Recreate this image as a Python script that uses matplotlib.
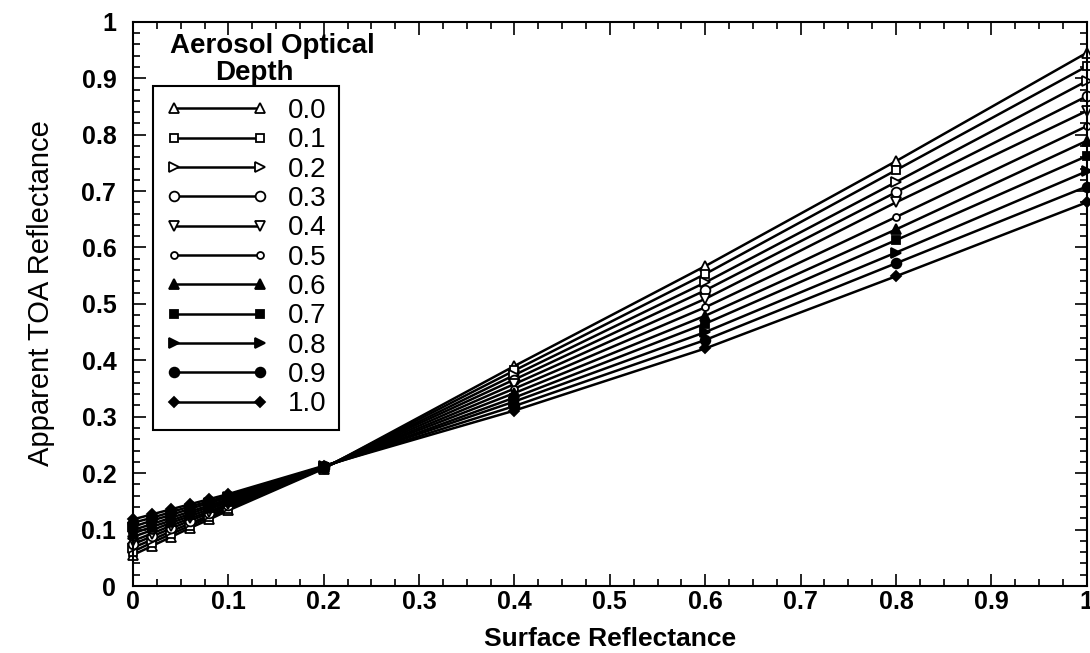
import matplotlib
matplotlib.use('Agg')
import matplotlib.pyplot as plt
from matplotlib.ticker import MultipleLocator, FuncFormatter

# surface reflectance sample points
surf = [0.0, 0.02, 0.04, 0.06, 0.08, 0.1, 0.2, 0.4, 0.6, 0.8, 1.0]

# apparent TOA reflectance for each aerosol optical depth
r_00 = [0.055, 0.071, 0.087, 0.103, 0.118, 0.134, 0.208, 0.390, 0.567, 0.753, 0.945]
r_01 = [0.061, 0.077, 0.092, 0.107, 0.122, 0.137, 0.209, 0.382, 0.553, 0.737, 0.921]
r_02 = [0.068, 0.082, 0.097, 0.111, 0.125, 0.140, 0.209, 0.374, 0.538, 0.716, 0.895]
r_03 = [0.074, 0.088, 0.102, 0.116, 0.129, 0.143, 0.210, 0.366, 0.524, 0.698, 0.868]
r_04 = [0.080, 0.093, 0.107, 0.120, 0.132, 0.146, 0.210, 0.358, 0.509, 0.680, 0.842]
r_05 = [0.087, 0.099, 0.112, 0.124, 0.136, 0.149, 0.210, 0.350, 0.494, 0.654, 0.815]
r_06 = [0.093, 0.105, 0.116, 0.128, 0.140, 0.151, 0.211, 0.342, 0.479, 0.632, 0.789]
r_07 = [0.099, 0.110, 0.121, 0.132, 0.143, 0.154, 0.211, 0.334, 0.465, 0.613, 0.762]
r_08 = [0.105, 0.116, 0.126, 0.137, 0.147, 0.157, 0.212, 0.327, 0.450, 0.591, 0.735]
r_09 = [0.112, 0.121, 0.131, 0.141, 0.150, 0.160, 0.212, 0.319, 0.436, 0.572, 0.708]
r_10 = [0.118, 0.127, 0.136, 0.145, 0.154, 0.163, 0.213, 0.311, 0.421, 0.549, 0.680]

aod_labels = ['0.0', '0.1', '0.2', '0.3', '0.4', '0.5', '0.6', '0.7', '0.8', '0.9', '1.0']
series = [r_00, r_01, r_02, r_03, r_04, r_05, r_06, r_07, r_08, r_09, r_10]

# marker style per series: (marker, filled, size)
styles = [('^', False, 7), ('s', False, 6), ('>', False, 7), ('o', False, 7),
          ('v', False, 7), ('o', False, 5), ('^', True, 7), ('s', True, 6),
          ('>', True, 7), ('o', True, 7), ('D', True, 5)]

plt.rcParams['font.family'] = ['Liberation Sans', 'DejaVu Sans']

fig = plt.figure(figsize=(10.9, 6.53), dpi=100)
ax = fig.add_axes([0.122, 0.1026, 0.875, 0.864])

for lab, vals, (mk, filled, ms) in zip(aod_labels, series, styles):
    ax.plot(surf, vals, color='black', lw=1.8, marker=mk, ms=ms,
            mfc='black' if filled else 'white', mec='black', mew=1.3,
            label=lab, clip_on=False)

ax.set_xlim(0, 1)
ax.set_ylim(0, 1)
ax.xaxis.set_major_locator(MultipleLocator(0.1))
ax.xaxis.set_minor_locator(MultipleLocator(0.025))
ax.yaxis.set_major_locator(MultipleLocator(0.1))
ax.yaxis.set_minor_locator(MultipleLocator(0.02))
fmt = FuncFormatter(lambda v, p: '%g' % round(v, 2))
ax.xaxis.set_major_formatter(fmt)
ax.yaxis.set_major_formatter(fmt)
ax.tick_params(which='both', direction='in', top=True, right=True, width=1.2)
ax.tick_params(which='major', length=9, labelsize=18)
ax.tick_params(axis='x', which='major', pad=3)
ax.tick_params(axis='y', which='major', pad=12)
ax.tick_params(which='minor', length=5)
for t in ax.get_xticklabels() + ax.get_yticklabels():
    t.set_fontweight('bold')
for s in ax.spines.values():
    s.set_linewidth(1.5)

ax.set_xlabel('Surface Reflectance', fontsize=19, fontweight='bold', labelpad=9)
ax.set_ylabel('Apparent TOA Reflectance', fontsize=21)
ax.yaxis.set_label_coords(-0.082, 0.52)

leg = ax.legend(loc='upper left', bbox_to_anchor=(0.021, 0.887), fontsize=20,
                numpoints=2, handlelength=3.7, labelspacing=0.12, handletextpad=0.7,
                borderpad=0.45, borderaxespad=0, fancybox=False, framealpha=1,
                edgecolor='black')
leg.get_frame().set_linewidth(1.5)

fig.text(272 / 1090, 1 - 46 / 653, 'Aerosol Optical', ha='center', va='center',
         fontsize=20, fontweight='bold')
fig.text(254 / 1090, 1 - 73 / 653, 'Depth', ha='center', va='center',
         fontsize=20, fontweight='bold')

fig.savefig('out.png', dpi=100)
